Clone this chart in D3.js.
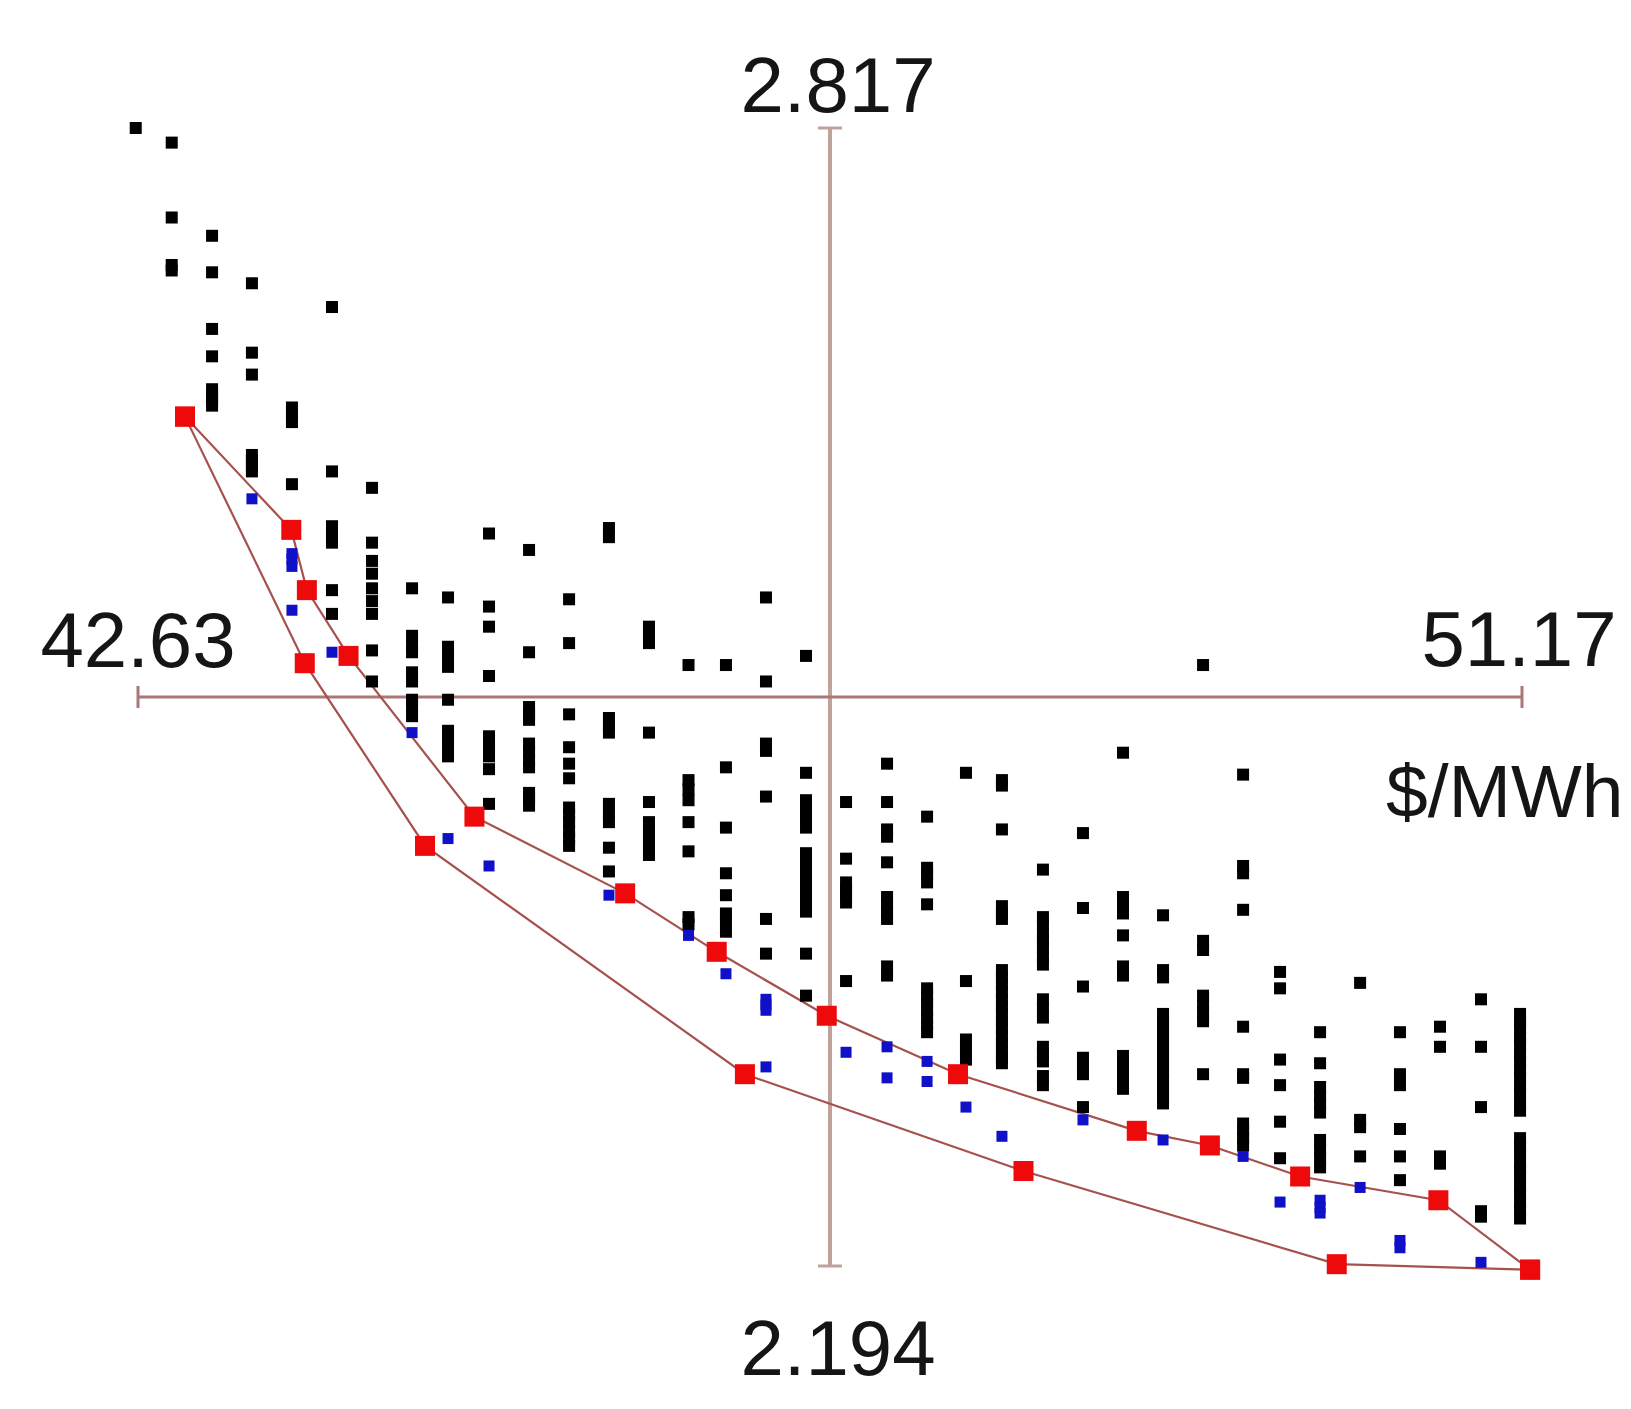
<!DOCTYPE html>
<html><head><meta charset="utf-8">
<script src="https://cdn.jsdelivr.net/npm/d3@7"></script>
<style>html,body{margin:0;padding:0;background:#fff;} svg{display:block;}</style>
</head><body>
<script>
// ---- axis range & labels ----
const xMin = 42.63, xMax = 51.17;
const yMin = 2.194, yMax = 2.817;
const xLabels = ["42.63", "51.17"];
const yLabels = ["2.817", "2.194"];
const xUnit = "$/MWh";

// ---- x position of each column of candidate points ($/MWh) ----
const colX = [42.616, 42.838, 43.087, 43.333, 43.580, 43.827, 44.074, 44.321, 44.543, 44.796,
  45.043, 45.290, 45.536, 45.783, 46.027, 46.258, 46.505, 46.752, 46.999, 47.252,
  47.499, 47.739, 47.961, 48.214, 48.461, 48.708, 48.955, 49.202, 49.449, 49.677,
  49.924, 50.171, 50.417, 50.664, 50.917, 51.158];

// ---- black points (y values per column) ----
const blackY = [
  [2.817],
  [2.809, 2.768, 2.742, 2.739],
  [2.758, 2.738, 2.707, 2.692, 2.674, 2.671, 2.668, 2.665],
  [2.732, 2.694, 2.682, 2.638, 2.635, 2.632, 2.629],
  [2.664, 2.660, 2.656, 2.622],
  [2.719, 2.629, 2.599, 2.596, 2.593, 2.590, 2.564, 2.551],
  [2.620, 2.590, 2.580, 2.573, 2.565, 2.558, 2.551, 2.531, 2.514],
  [2.565, 2.539, 2.534, 2.530, 2.519, 2.514, 2.504, 2.500, 2.495],
  [2.560, 2.533, 2.528, 2.522, 2.504, 2.487, 2.483, 2.478, 2.473],
  [2.595, 2.555, 2.544, 2.517, 2.484, 2.478, 2.473, 2.466, 2.447],
  [2.586, 2.530, 2.500, 2.496, 2.493, 2.480, 2.476, 2.471, 2.467, 2.453, 2.450, 2.446],
  [2.559, 2.535, 2.496, 2.478, 2.469, 2.461, 2.445, 2.441, 2.437, 2.432, 2.428, 2.424],
  [2.598, 2.593, 2.494, 2.490, 2.486, 2.447, 2.442, 2.437, 2.423, 2.410],
  [2.544, 2.540, 2.535, 2.486, 2.448, 2.437, 2.433, 2.428, 2.424, 2.419],
  [2.523, 2.460, 2.455, 2.449, 2.437, 2.421, 2.385, 2.381],
  [2.523, 2.467, 2.434, 2.409, 2.397, 2.387, 2.383, 2.377],
  [2.560, 2.514, 2.480, 2.476, 2.451, 2.384, 2.365],
  [2.528, 2.464, 2.449, 2.444, 2.439, 2.434, 2.420, 2.416, 2.412, 2.408, 2.404, 2.400, 2.396, 2.392, 2.388, 2.365, 2.342],
  [2.448, 2.417, 2.404, 2.400, 2.397, 2.393, 2.350],
  [2.469, 2.448, 2.433, 2.429, 2.415, 2.396, 2.392, 2.388, 2.384, 2.358, 2.353],
  [2.440, 2.412, 2.408, 2.404, 2.392, 2.346, 2.342, 2.338, 2.334, 2.330, 2.326, 2.322],
  [2.464, 2.350, 2.318, 2.313, 2.307],
  [2.460, 2.457, 2.433, 2.391, 2.387, 2.384, 2.356, 2.352, 2.348, 2.344, 2.340, 2.336, 2.332, 2.328, 2.324, 2.320, 2.316, 2.312, 2.308, 2.305],
  [2.411, 2.385, 2.381, 2.376, 2.372, 2.368, 2.363, 2.359, 2.340, 2.335, 2.330, 2.314, 2.310, 2.306, 2.298, 2.293],
  [2.431, 2.390, 2.347, 2.308, 2.304, 2.299, 2.281],
  [2.475, 2.396, 2.392, 2.387, 2.375, 2.358, 2.353, 2.309, 2.305, 2.300, 2.296, 2.291],
  [2.386, 2.356, 2.352, 2.332, 2.328, 2.324, 2.320, 2.316, 2.312, 2.308, 2.304, 2.300, 2.296, 2.292, 2.288, 2.283],
  [2.523, 2.372, 2.367, 2.342, 2.337, 2.333, 2.328, 2.299],
  [2.463, 2.413, 2.409, 2.389, 2.325, 2.299, 2.297, 2.272, 2.268, 2.264, 2.260],
  [2.355, 2.346, 2.307, 2.293, 2.273, 2.253],
  [2.322, 2.305, 2.292, 2.287, 2.283, 2.278, 2.263, 2.258, 2.253, 2.248],
  [2.349, 2.274, 2.270, 2.254],
  [2.322, 2.299, 2.293, 2.269, 2.254, 2.241],
  [2.325, 2.314, 2.254, 2.250],
  [2.340, 2.314, 2.281, 2.224, 2.221],
  [2.332, 2.328, 2.324, 2.319, 2.315, 2.310, 2.306, 2.301, 2.297, 2.292, 2.288, 2.283, 2.279,
   2.264, 2.260, 2.256, 2.251, 2.247, 2.243, 2.238, 2.234, 2.229, 2.225, 2.220]
];

// ---- blue points (y values per column) ----
const blueY = [
  [], [], [], [2.614], [2.584, 2.581, 2.577, 2.553], [2.530], [], [2.486], [2.428], [2.413],
  [], [], [2.397], [], [2.375], [2.354], [2.340, 2.337, 2.334, 2.303], [], [2.311], [2.314, 2.297],
  [2.306, 2.295], [2.281], [2.265], [], [2.274], [], [2.263], [], [2.254], [2.229],
  [2.230, 2.226, 2.223], [2.237], [2.208, 2.204], [], [2.196], []
];

// ---- red frontier points ----
const upperX = [42.920, 43.576, 43.672, 43.929, 44.706, 45.636, 46.201, 46.880, 47.690, 48.793, 49.244, 49.801, 50.654, 51.220];
const upperY = [2.659, 2.597, 2.564, 2.528, 2.440, 2.398, 2.366, 2.331, 2.299, 2.268, 2.260, 2.243, 2.230, 2.192];
const lowerX = [42.920, 43.659, 44.401, 46.375, 48.094, 50.027, 51.220];
const lowerY = [2.659, 2.524, 2.424, 2.299, 2.246, 2.195, 2.192];

// ---- drawing ----
const W = 1631, H = 1409;
const svg = d3.select("body").append("svg").attr("width", W).attr("height", H);
svg.append("rect").attr("width", W).attr("height", H).attr("fill", "#fff");

const x = d3.scaleLinear().domain([xMin, xMax]).range([138, 1522]);
const y = d3.scaleLinear().domain([yMin, yMax]).range([1266, 128]);
const xMid = (xMin + xMax) / 2, yMid = (yMin + yMax) / 2;

const axisG = svg.append("g");
// vertical axis
axisG.append("line").attr("x1", x(xMid)).attr("x2", x(xMid)).attr("y1", y(yMax)).attr("y2", y(yMin))
  .attr("stroke", "#bfa39b").attr("stroke-width", 4);
[yMax, yMin].forEach(v => axisG.append("line")
  .attr("x1", x(xMid) - 12).attr("x2", x(xMid) + 12).attr("y1", y(v)).attr("y2", y(v))
  .attr("stroke", "#bfa39b").attr("stroke-width", 3));
// horizontal axis
axisG.append("line").attr("x1", x(xMin)).attr("x2", x(xMax)).attr("y1", y(yMid)).attr("y2", y(yMid))
  .attr("stroke", "#ac7676").attr("stroke-width", 3);
[xMin, xMax].forEach(v => axisG.append("line")
  .attr("x1", x(v)).attr("x2", x(v)).attr("y1", y(yMid) - 11).attr("y2", y(yMid) + 11)
  .attr("stroke", "#ac7676").attr("stroke-width", 3));

// labels
const font = "'Liberation Sans', Arial, sans-serif";
const lab = (t, px, py, anchor, fs) => svg.append("text").text(t).attr("x", px).attr("y", py)
  .attr("text-anchor", anchor).attr("font-family", font).attr("font-size", fs || 78).attr("fill", "#151515");
lab(yLabels[0], x(xMid) + 8, y(yMax) - 16, "middle");
lab(yLabels[1], x(xMid) + 8, y(yMin) + 109, "middle");
lab(xLabels[0], x(xMin), y(yMid) - 30, "middle");
lab(xLabels[1], x(xMax) - 3, y(yMid) - 31, "middle");
lab(xUnit, 1386, y(yMid) + 120, "start", 75);

// frontier lines
const line = d3.line().x(d => x(d[0])).y(d => y(d[1]));
const upper = upperX.map((v, i) => [v, upperY[i]]);
const lower = lowerX.map((v, i) => [v, lowerY[i]]);
svg.append("path").attr("d", line(upper)).attr("fill", "none").attr("stroke", "#a5524e").attr("stroke-width", 2.2);
svg.append("path").attr("d", line(lower)).attr("fill", "none").attr("stroke", "#a5524e").attr("stroke-width", 2.2);

// black points
const blackPts = [];
blackY.forEach((arr, i) => arr.forEach(v => blackPts.push([colX[i], v])));
const bs = 12;
svg.append("g").selectAll("rect").data(blackPts).join("rect")
  .attr("x", d => x(d[0]) - bs / 2).attr("y", d => y(d[1]) - bs / 2)
  .attr("width", bs).attr("height", bs).attr("fill", "#000");

// blue points
const bluePts = [];
blueY.forEach((arr, i) => arr.forEach(v => bluePts.push([colX[i], v])));
const us = 11;
svg.append("g").selectAll("rect").data(bluePts).join("rect")
  .attr("x", d => x(d[0]) - us / 2).attr("y", d => y(d[1]) - us / 2)
  .attr("width", us).attr("height", us).attr("fill", "#1010c8");

// red points
const rs = 20;
const redPts = upper.concat(lower);
svg.append("g").selectAll("rect").data(redPts).join("rect")
  .attr("x", d => x(d[0]) - rs / 2).attr("y", d => y(d[1]) - rs / 2)
  .attr("width", rs).attr("height", rs).attr("fill", "#ee0a0a");
</script>
</body></html>
